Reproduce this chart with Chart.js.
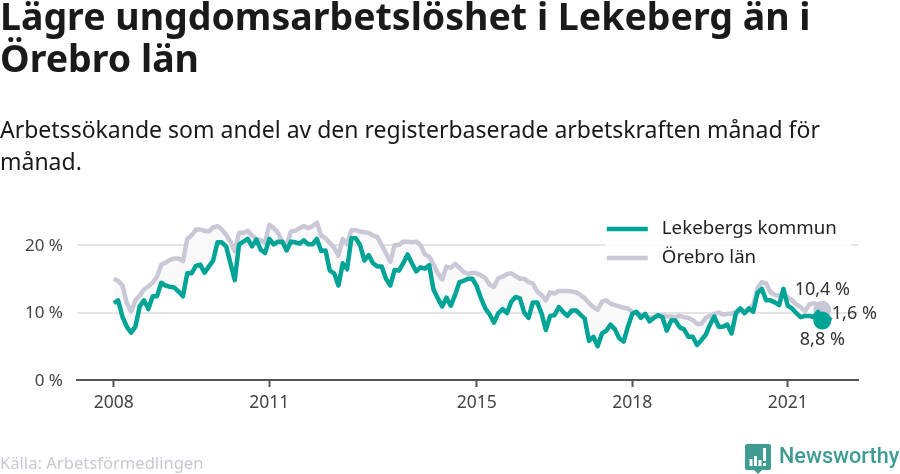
<!DOCTYPE html>
<html lang="sv">
<head>
<meta charset="utf-8">
<script src="https://cdn.jsdelivr.net/npm/chart.js@4"></script>
<style>
html,body{margin:0;padding:0;background:#fff;width:900px;height:474px;overflow:hidden;font-family:"Noto Sans",sans-serif}
#c{position:absolute;left:0;top:0;width:900px;height:474px}
.t{position:absolute;left:0;white-space:nowrap;margin:0}
#h1{top:-5px;font-size:37.5px;font-weight:700;line-height:42px;color:#1a1a1a}
#h2{top:113px;font-size:23px;font-weight:400;line-height:32px;color:#1a1a1a}
#src{top:452px;font-size:16.6px;line-height:22px;color:#c9c9d4}
#brand{position:absolute;left:779px;top:441px;font-family:Roboto,sans-serif;font-size:21.6px;font-weight:500;line-height:30px;color:#3f9c93;white-space:nowrap}
#logo{position:absolute;left:745px;top:444px}
</style>
</head>
<body>
<canvas id="c" width="900" height="474"></canvas>
<div id="h1" class="t">Lägre ungdomsarbetslöshet i Lekeberg än i<br>Örebro län</div>
<div id="h2" class="t">Arbetssökande som andel av den registerbaserade arbetskraften månad för<br>månad.</div>
<div id="src" class="t">Källa: Arbetsförmedlingen</div>
<svg id="logo" width="26" height="30" viewBox="0 0 26 30">
<path d="M2 0H24a2 2 0 0 1 2 2V24a2 2 0 0 1-2 2H17L13 30L9 26H2a2 2 0 0 1-2-2V2a2 2 0 0 1 2-2Z" fill="#3f9c93"/>
<rect x="4.5" y="15" width="3" height="7" fill="#fff"/><rect x="9" y="12" width="3" height="10" fill="#fff"/><rect x="13.5" y="16" width="3" height="6" fill="#fff"/><rect x="18" y="4" width="3" height="13" fill="#fff"/><rect x="18" y="19" width="3" height="3" fill="#fff"/>
</svg>
<div id="brand">Newsworthy</div>
<script>
const seriesNames = ["Lekebergs kommun", "Örebro län"];
const startYear = 2008;
const tickYears = [2008, 2011, 2015, 2018, 2021];
const yTicks = [0, 10, 20];
const lekeberg = [
11.4,11.8,9.4,7.9,7.0,7.9,10.9,11.8,10.5,12.4,
12.4,14.4,14.0,13.8,13.7,13.1,12.4,15.8,15.8,16.9,
17.1,15.9,16.8,17.7,20.4,20.4,19.8,17.3,14.8,20.1,
20.5,20.9,19.8,20.8,19.3,18.8,20.9,20.1,20.5,20.5,
19.2,20.5,20.4,20.2,20.7,20.1,20.1,20.9,19.1,19.2,
16.2,15.8,14.0,17.3,16.4,21.0,21.0,20.0,17.7,18.5,
17.3,16.8,16.8,15.0,14.0,16.3,16.2,17.3,18.6,17.3,
16.1,16.7,16.5,17.0,13.4,12.1,10.9,12.2,11.0,12.6,
14.5,14.7,15.0,15.0,13.9,12.1,10.6,9.7,8.5,9.9,
10.5,9.9,11.6,12.3,12.1,10.0,9.2,11.5,11.5,9.9,
7.4,9.5,9.6,10.8,10.1,9.5,10.3,10.3,9.7,9.1,
5.8,6.4,5.0,6.9,7.3,8.2,7.5,6.2,5.7,7.9,
9.8,10.1,9.2,9.8,8.7,9.2,9.6,9.3,7.3,8.8,
8.8,7.8,7.5,6.4,6.4,5.2,5.9,6.7,8.2,9.4,
7.9,7.9,8.2,6.9,9.9,10.6,9.9,10.6,10.1,12.9,
13.5,11.8,11.8,11.5,11.1,13.5,11.0,10.6,9.9,9.3,
9.5,9.5,9.3,10.1,8.8,8.6,9.3];
const orebro = [
15.0,14.7,14.0,11.4,10.1,11.8,12.5,13.4,13.9,14.4,
15.3,17.1,17.4,17.8,18.0,18.0,17.6,20.9,21.4,22.3,
22.3,22.1,22.0,22.6,22.8,22.3,21.5,20.5,19.1,21.8,
21.8,22.1,21.4,20.9,20.7,20.3,23.0,22.5,21.8,20.5,
20.0,22.0,22.1,22.5,22.8,22.5,22.8,23.3,21.4,21.0,
20.3,19.6,18.4,20.9,20.1,22.2,22.2,22.0,21.9,21.8,
21.4,21.2,20.0,18.8,17.5,20.0,20.0,20.5,20.5,20.4,
20.5,20.0,18.6,18.3,17.1,15.8,14.9,16.8,16.6,17.2,
16.6,16.0,15.7,15.9,15.8,15.5,15.1,14.1,13.8,15.1,
15.3,15.7,15.8,15.4,15.0,15.0,14.5,14.3,13.1,12.6,
11.8,13.0,12.8,13.2,13.2,13.2,13.1,13.0,12.6,12.1,
11.4,10.8,10.4,11.6,11.8,11.3,11.1,10.9,10.7,10.6,
10.1,9.9,9.7,9.5,9.2,9.3,9.6,9.6,9.4,9.4,
9.3,9.5,9.3,9.2,8.9,8.3,8.3,9.2,9.5,9.75,
10.0,9.7,9.8,9.8,10.1,10.6,10.1,10.6,11.1,13.6,
14.5,14.3,13.0,12.6,12.5,12.5,12.3,11.8,11.2,10.8,
10.2,11.2,11.4,11.2,10.4,10.4,10.4];
const markerIndex = 164;
const endLabels = ["8,8 %", "10,4 %", "1,6 %"];
const teal = "#00a497", grey = "#c9c8d6";

const toPoints = arr => arr.map((v, i) => ({x: startYear + i / 12, y: v}));
const radius = ctx => ctx.dataIndex === markerIndex ? 9 : 0;

const overlay = {
  id: "overlay",
  beforeDatasetsDraw(chart) {
    const g = chart.ctx;
    g.save();
    g.fillStyle = "rgba(255,255,255,0.92)";
    g.fillRect(chart.scales.x.getPixelForValue(2017.48), chart.chartArea.top, 246, 53);
    g.restore();
  },
  afterDatasetsDraw(chart) {
    const g = chart.ctx, xs = chart.scales.x, ys = chart.scales.y;
    g.save();
    g.textBaseline = "middle";
    g.font = '18.7px "Noto Sans"';
    const lx = xs.getPixelForValue(2017.51);
    seriesNames.forEach((name, i) => {
      const y = chart.chartArea.top + 11 + i * 29;
      g.strokeStyle = chart.data.datasets[i].borderColor;
      g.lineWidth = 4.5;
      g.beginPath(); g.moveTo(lx, y); g.lineTo(lx + 41, y); g.stroke();
      g.fillStyle = "#222";
      g.textAlign = "left";
      g.fillText(name, lx + 55, y);
    });
    g.font = '18px "Noto Sans"';
    const mx = xs.getPixelForValue(startYear + markerIndex / 12);
    const yL = ys.getPixelForValue(lekeberg[markerIndex]);
    const yO = ys.getPixelForValue(orebro[markerIndex]);
    g.fillStyle = "#333";
    g.textAlign = "center";
    g.fillText(endLabels[0], mx, yL + 19);
    g.fillText(endLabels[1], mx, yO - 20);
    g.textAlign = "left";
    g.fillText(endLabels[2], mx + 9.5, (yL + yO) / 2 - 1);
    g.restore();
  }
};

new Chart(document.getElementById("c"), {
  type: "line",
  data: {datasets: [
    {label: seriesNames[0], data: toPoints(lekeberg), borderColor: teal, backgroundColor: teal,
     borderWidth: 4.5, borderJoinStyle: "round", pointRadius: radius, pointBorderWidth: 0, pointBackgroundColor: teal, tension: 0, fill: false},
    {label: seriesNames[1], data: toPoints(orebro), borderColor: grey, backgroundColor: "#f9f9fa",
     borderWidth: 4.5, borderJoinStyle: "round", pointRadius: radius, pointBorderWidth: 0, pointBackgroundColor: grey, tension: 0,
     fill: {target: 0}}
  ]},
  options: {
    responsive: false, animation: false, devicePixelRatio: 1,
    layout: {padding: {left: 0, right: 42, top: 218, bottom: 0}},
    plugins: {legend: {display: false}, tooltip: {enabled: false}, title: {display: false}},
    scales: {
      x: {
        type: "linear", min: 2007.29, max: 2022.355,
        afterFit(s) { s.height = 94; },
        afterBuildTicks(s) { s.ticks = tickYears.map(v => ({value: v})); },
        border: {display: true, color: "#555", width: 2},
        grid: {drawOnChartArea: false, drawTicks: true, tickLength: 7, tickColor: "#555", tickWidth: 2},
        ticks: {color: "#444", font: {family: "Noto Sans", size: 17.5}, maxRotation: 0, autoSkip: false, padding: 6,
                callback: v => String(v)}
      },
      y: {
        min: 0, max: 24,
        afterFit(s) { s.width = 77; },
        afterBuildTicks(s) { s.ticks = yTicks.map(v => ({value: v})); },
        border: {display: false},
        grid: {color: c => c.tick.value === 0 ? "transparent" : "#e4e4e6", lineWidth: 2, drawTicks: false},
        ticks: {color: "#444", font: {family: "Noto Sans", size: 17}, padding: 14, labelOffset: 1, callback: v => v + " %"}
      }
    }
  },
  plugins: [overlay]
});
</script>
</body>
</html>
